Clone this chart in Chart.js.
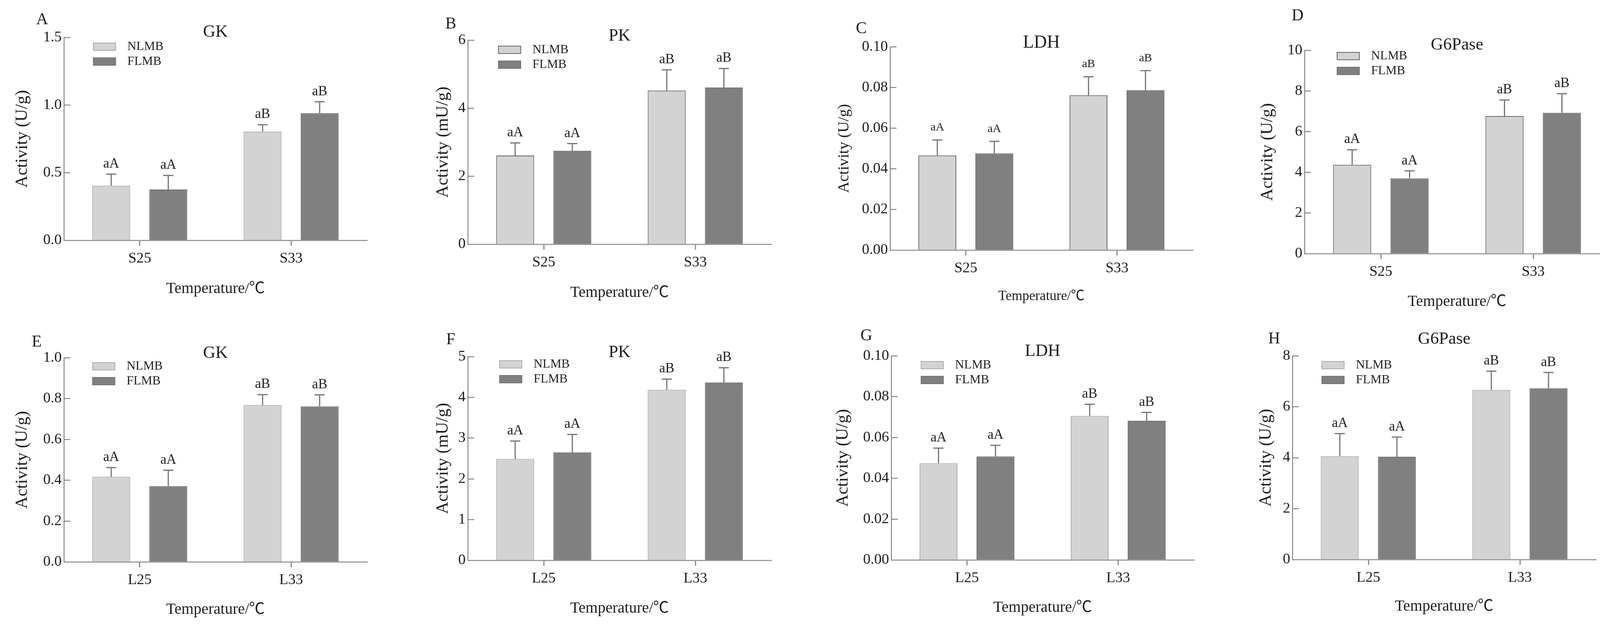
<!DOCTYPE html>
<html>
<head>
<meta charset="utf-8">
<script src="https://cdn.jsdelivr.net/npm/chart.js@4.4.1/dist/chart.umd.min.js"></script>
<style>
  html, body { margin: 0; padding: 0; background: #fff; }
  #wrap { position: relative; width: 4136px; height: 1615px; background: #fff; }
  #wrap canvas { position: absolute; }
</style>
</head>
<body>
<div id="wrap"></div>
<script>
const catsS = ["S25", "S33"];
const catsL = ["L25", "L33"];
const groups = ["NLMB", "FLMB"];
const sigN = ["aA", "aB"];
const sigF = ["aA", "aB"];

// top row (S groups): mean and SD
const gkS_N = [0.404, 0.804], gkS_Nsd = [0.085, 0.051];
const gkS_F = [0.376, 0.941], gkS_Fsd = [0.104, 0.084];
const pkS_N = [2.61, 4.52],   pkS_Nsd = [0.37, 0.61];
const pkS_F = [2.75, 4.61],   pkS_Fsd = [0.21, 0.56];
const ldhS_N = [0.0466, 0.0762], ldhS_Nsd = [0.0076, 0.0091];
const ldhS_F = [0.0476, 0.0787], ldhS_Fsd = [0.0059, 0.0096];
const g6S_N = [4.37, 6.77],   g6S_Nsd = [0.74, 0.79];
const g6S_F = [3.70, 6.93],   g6S_Fsd = [0.37, 0.94];

// bottom row (L groups)
const gkL_N = [0.417, 0.769], gkL_Nsd = [0.045, 0.051];
const gkL_F = [0.371, 0.762], gkL_Fsd = [0.078, 0.057];
const pkL_N = [2.49, 4.19],   pkL_Nsd = [0.44, 0.26];
const pkL_F = [2.65, 4.37],   pkL_Fsd = [0.44, 0.36];
const ldhL_N = [0.0474, 0.0706], ldhL_Nsd = [0.0074, 0.0057];
const ldhL_F = [0.0507, 0.0682], ldhL_Fsd = [0.0055, 0.0041];
const g6L_N = [4.06, 6.66],   g6L_Nsd = [0.89, 0.74];
const g6L_F = [4.04, 6.73],   g6L_Fsd = [0.77, 0.62];

const FONT = "'Liberation Serif', 'Times New Roman', 'Noto Sans CJK SC', serif";
const INK = "#1e1e1e";
const YW = 130;   // fixed y-axis box width
const XH = 60;    // fixed x-axis box height
const X_TITLE = "Temperature/\u2103";

// layout: box = canvas rect, area = chart area [left, right, top, bottom] in page px
const panels = [
  { letter: "A", title: "GK", yTitle: "Activity (U/g)", cats: catsS, n: gkS_N, nsd: gkS_Nsd, f: gkS_F, fsd: gkS_Fsd,
    max: 1.5, step: 0.5, dec: 1, box: [0, 0, 1030, 800], area: [164, 939, 96, 615],
    letterAt: [108, 51], titleY: 82, yTitleX: 57, xTitleY: 739, legendAt: [239, 110], nBorder: "#ababab" },
  { letter: "B", title: "PK", yTitle: "Activity (mU/g)", cats: catsS, n: pkS_N, nsd: pkS_Nsd, f: pkS_F, fsd: pkS_Fsd,
    max: 6, step: 2, dec: 0, box: [1030, 0, 1030, 800], area: [1198, 1974, 103, 625],
    letterAt: [1154, 62], titleY: 92, yTitleX: 1134, xTitleY: 749, legendAt: [1276, 118], nBorder: "#666" },
  { letter: "C", title: "LDH", yTitle: "Activity (U/g)", cats: catsS, n: ldhS_N, nsd: ldhS_Nsd, f: ldhS_F, fsd: ldhS_Fsd,
    max: 0.10, step: 0.02, dec: 2, box: [2060, 0, 1030, 800], area: [2279, 3053, 120, 640],
    letterAt: [2205, 74], titleY: 110, yTitleX: 2161, xTitleY: 759, legendAt: null, nBorder: "#666", small: true },
  { letter: "D", title: "G6Pase", yTitle: "Activity (U/g)", cats: catsS, n: g6S_N, nsd: g6S_Nsd, f: g6S_F, fsd: g6S_Fsd,
    max: 10, step: 2, dec: 0, box: [3090, 0, 1046, 800], area: [3340, 4120, 129, 649],
    letterAt: [3322, 41], titleY: 115, yTitleX: 3245, xTitleY: 772, legendAt: [3423, 134], nBorder: "#666" },
  { letter: "E", title: "GK", yTitle: "Activity (U/g)", cats: catsL, n: gkL_N, nsd: gkL_Nsd, f: gkL_F, fsd: gkL_Fsd,
    max: 1.0, step: 0.2, dec: 1, box: [0, 800, 1030, 815], area: [164, 939, 916, 1438],
    letterAt: [94, 876], titleY: 904, yTitleX: 57, xTitleY: 1560, legendAt: [237, 928], nBorder: "#ababab" },
  { letter: "F", title: "PK", yTitle: "Activity (mU/g)", cats: catsL, n: pkL_N, nsd: pkL_Nsd, f: pkL_F, fsd: pkL_Fsd,
    max: 5, step: 1, dec: 0, box: [1030, 800, 1030, 815], area: [1198, 1974, 913, 1434],
    letterAt: [1154, 870], titleY: 902, yTitleX: 1134, xTitleY: 1557, legendAt: [1279, 923], nBorder: "#ababab" },
  { letter: "G", title: "LDH", yTitle: "Activity (U/g)", cats: catsL, n: ldhL_N, nsd: ldhL_Nsd, f: ldhL_F, fsd: ldhL_Fsd,
    max: 0.10, step: 0.02, dec: 2, box: [2060, 800, 1030, 815], area: [2282, 3056, 911, 1433],
    letterAt: [2218, 860], titleY: 899, yTitleX: 2158, xTitleY: 1555, legendAt: [2358, 925], nBorder: "#ababab" },
  { letter: "H", title: "G6Pase", yTitle: "Activity (U/g)", cats: catsL, n: g6L_N, nsd: g6L_Nsd, f: g6L_F, fsd: g6L_Fsd,
    max: 8, step: 2, dec: 0, box: [3090, 800, 1046, 815], area: [3309, 4085, 911, 1432],
    letterAt: [3262, 868], titleY: 868, yTitleX: 3241, xTitleY: 1552, legendAt: [3384, 925], nBorder: "#ababab" }
];

function makeDeco(p) {
  const ox = p.box[0], oy = p.box[1];
  return {
    id: "deco",
    afterDatasetsDraw(chart) {
      const ctx = chart.ctx, y = chart.scales.y;
      ctx.save();
      chart.data.datasets.forEach((ds, i) => {
        chart.getDatasetMeta(i).data.forEach((bar, j) => {
          const top = y.getPixelForValue(ds.data[j] + ds.sd[j]);
          ctx.strokeStyle = "#747474";
          ctx.lineWidth = 3;
          ctx.beginPath();
          ctx.moveTo(bar.x, bar.y);
          ctx.lineTo(bar.x, top);
          ctx.moveTo(bar.x - 13, top);
          ctx.lineTo(bar.x + 13, top);
          ctx.stroke();
          ctx.fillStyle = INK;
          ctx.font = (p.small ? 30 : 35) + "px " + FONT;
          ctx.textAlign = "center";
          ctx.textBaseline = "middle";
          ctx.fillText(ds.sig[j], bar.x, top - (p.small ? 32 : 26));
        });
      });
      ctx.restore();
    },
    afterDraw(chart) {
      const ctx = chart.ctx, a = chart.chartArea;
      const cx = (a.left + a.right) / 2;
      ctx.save();
      ctx.fillStyle = INK;
      ctx.textAlign = "center";
      ctx.textBaseline = "middle";
      ctx.font = "42px " + FONT;
      ctx.fillText(p.letter, p.letterAt[0] - ox, p.letterAt[1] - oy);
      ctx.font = (p.small ? 46 : 44) + "px " + FONT;
      ctx.fillText(p.title, cx, p.titleY - oy);
      ctx.font = (p.small ? 35 : 40) + "px " + FONT;
      ctx.fillText(X_TITLE, cx, p.xTitleY - oy);
      ctx.save();
      ctx.translate(p.yTitleX - ox, (a.top + a.bottom) / 2);
      ctx.rotate(-Math.PI / 2);
      ctx.font = (p.small ? 40 : 44) + "px " + FONT;
      ctx.fillText(p.yTitle, 0, 0);
      ctx.restore();
      if (p.legendAt) {
        const lx = p.legendAt[0] - ox, ly = p.legendAt[1] - oy;
        chart.data.datasets.forEach((ds, i) => {
          const by = ly + i * 38;
          ctx.fillStyle = ds.backgroundColor;
          ctx.fillRect(lx, by, 57, 19);
          ctx.strokeStyle = ds.borderColor;
          ctx.lineWidth = 2;
          ctx.strokeRect(lx, by, 57, 19);
          ctx.fillStyle = INK;
          ctx.textAlign = "left";
          ctx.font = "32px " + FONT;
          ctx.fillText(ds.label, lx + 87, by + 10);
        });
      }
      ctx.restore();
    }
  };
}

const wrap = document.getElementById("wrap");
panels.forEach(p => {
  const [bx, by, bw, bh] = p.box;
  const [L, R, T, B] = p.area;
  const cv = document.createElement("canvas");
  cv.width = bw; cv.height = bh;
  cv.style.left = bx + "px"; cv.style.top = by + "px";
  cv.style.width = bw + "px"; cv.style.height = bh + "px";
  wrap.appendChild(cv);
  new Chart(cv, {
    type: "bar",
    data: {
      labels: p.cats,
      datasets: [
        { label: groups[0], data: p.n, sd: p.nsd, sig: sigN, backgroundColor: "#d3d3d3", borderColor: p.nBorder, borderWidth: 2 },
        { label: groups[1], data: p.f, sd: p.fsd, sig: sigF, backgroundColor: "#808080", borderColor: "#727272", borderWidth: 2 }
      ]
    },
    options: {
      responsive: false,
      animation: false,
      devicePixelRatio: 1,
      layout: { padding: { left: L - bx - YW, right: bx + bw - R, top: T - by, bottom: by + bh - B - XH } },
      plugins: { legend: { display: false }, tooltip: { enabled: false } },
      datasets: { bar: { categoryPercentage: 0.754, barPercentage: 0.664 } },
      scales: {
        x: {
          afterFit(s) { s.height = XH; },
          grid: { display: true, drawOnChartArea: false, drawTicks: true, tickLength: 14, offset: false, color: "#8a8a8a", lineWidth: 3 },
          border: { color: "#9c9c9c", width: 3 },
          ticks: { font: { family: FONT, size: 38 }, color: INK, padding: 10 }
        },
        y: {
          min: 0, max: p.max,
          afterFit(s) { s.width = YW; },
          grid: { display: true, drawOnChartArea: false, drawTicks: true, tickLength: -16, color: "#707070", lineWidth: 2 },
          border: { color: "#707070", width: 2 },
          ticks: { stepSize: p.step, font: { family: FONT, size: 38 }, color: INK, padding: 22,
                   callback: v => Number(v).toFixed(p.dec) }
        }
      }
    },
    plugins: [makeDeco(p)]
  });
});
</script>
</body>
</html>
